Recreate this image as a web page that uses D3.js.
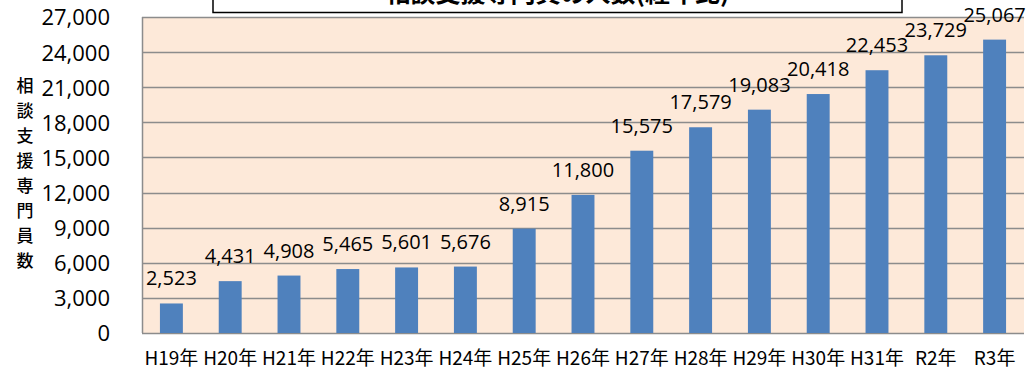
<!DOCTYPE html>
<html>
<head>
<meta charset="utf-8">
<script src="https://cdn.jsdelivr.net/npm/d3@7"></script>
<style>
  html, body { margin: 0; padding: 0; background: #ffffff; }
  svg { display: block; }
</style>
</head>
<body>
<svg id="chart" width="1026" height="371"></svg>
<script>
// Number of consultation support specialists by fiscal year
const years = ["H19年", "H20年", "H21年", "H22年", "H23年", "H24年", "H25年", "H26年",
               "H27年", "H28年", "H29年", "H30年", "H31年", "R2年", "R3年"];
const counts = [2523, 4431, 4908, 5465, 5601, 5676, 8915, 11800,
                15575, 17579, 19083, 20418, 22453, 23729, 25067];
const yTicks = [0, 3000, 6000, 9000, 12000, 15000, 18000, 21000, 24000, 27000];
const yTitle = "相談支援専門員数";
const title = "相談支援専門員の人数(経年比)";

const svg = d3.select("#chart");
const plot = { left: 142, right: 1024, top: 17, bottom: 333 };

const numFont = "'Open Sans', 'Liberation Sans', sans-serif";
const jpFont = "'Noto Sans CJK JP', sans-serif";

const x = d3.scaleBand()
  .domain(years)
  .range([plot.left, plot.right])
  .paddingInner(0.61)
  .paddingOuter(0.305);

const y = d3.scaleLinear()
  .domain([0, 27000])
  .range([plot.bottom, plot.top]);

// plot background
svg.append("rect")
  .attr("x", plot.left).attr("y", plot.top)
  .attr("width", plot.right - plot.left).attr("height", plot.bottom - plot.top)
  .attr("fill", "#fde9d9");

// horizontal gridlines
svg.append("g")
  .selectAll("line")
  .data(yTicks)
  .join("line")
  .attr("x1", plot.left).attr("x2", plot.right)
  .attr("y1", d => Math.round(y(d)) + 0.5).attr("y2", d => Math.round(y(d)) + 0.5)
  .attr("stroke", "#8c8c8c")
  .attr("stroke-width", 1.5);

// left plot edge
svg.append("line")
  .attr("x1", plot.left + 0.5).attr("x2", plot.left + 0.5)
  .attr("y1", plot.top).attr("y2", plot.bottom)
  .attr("stroke", "#8c8c8c").attr("stroke-width", 1.5);

// bars
svg.append("g")
  .selectAll("rect")
  .data(counts)
  .join("rect")
  .attr("x", (d, i) => x(years[i]))
  .attr("width", x.bandwidth())
  .attr("y", d => y(d))
  .attr("height", d => y(0) - y(d))
  .attr("fill", "#4f81bd");

// value labels
svg.append("g")
  .selectAll("text")
  .data(counts)
  .join("text")
  .attr("x", (d, i) => x(years[i]) + x.bandwidth() / 2)
  .attr("y", d => y(d) - 18)
  .attr("text-anchor", "middle")
  .attr("font-family", numFont)
  .attr("font-size", 20)
  .attr("fill", "#000")
  .text(d => d3.format(",")(d));

// y axis tick labels
const yAxis = d3.axisLeft(y)
  .tickValues(yTicks)
  .tickFormat(d3.format(","))
  .tickSize(0)
  .tickPadding(0);
const yG = svg.append("g")
  .attr("transform", "translate(110,0)")
  .call(yAxis);
yG.select(".domain").remove();
yG.selectAll("text")
  .attr("font-family", numFont)
  .attr("font-size", 22)
  .attr("fill", "#000")
  .attr("dy", "0.36em");

// x axis category labels
const xAxis = d3.axisBottom(x).tickSize(0).tickPadding(0);
const xG = svg.append("g")
  .attr("transform", `translate(0,${plot.bottom})`)
  .call(xAxis);
xG.select(".domain").remove();
xG.selectAll("text")
  .attr("font-family", jpFont)
  .attr("font-size", 19)
  .attr("fill", "#000")
  .attr("y", 32)
  .attr("dy", 0);

// vertical y axis title, one character per line
svg.append("g")
  .selectAll("text")
  .data(Array.from(yTitle))
  .join("text")
  .attr("x", 25)
  .attr("y", (d, i) => 92 + i * 25)
  .attr("text-anchor", "middle")
  .attr("font-family", jpFont)
  .attr("font-weight", 500)
  .attr("font-size", 17)
  .attr("fill", "#000")
  .text(d => d);

// title box (mostly above the visible area)
svg.append("rect")
  .attr("x", 213).attr("y", -40)
  .attr("width", 689).attr("height", 52.5)
  .attr("fill", "#ffffff")
  .attr("stroke", "#000")
  .attr("stroke-width", 1.5);
svg.append("text")
  .attr("x", 557.5)
  .attr("y", 2)
  .attr("text-anchor", "middle")
  .attr("font-family", jpFont)
  .attr("font-weight", "bold")
  .attr("font-size", 25)
  .attr("fill", "#000")
  .text(title);
</script>
</body>
</html>
